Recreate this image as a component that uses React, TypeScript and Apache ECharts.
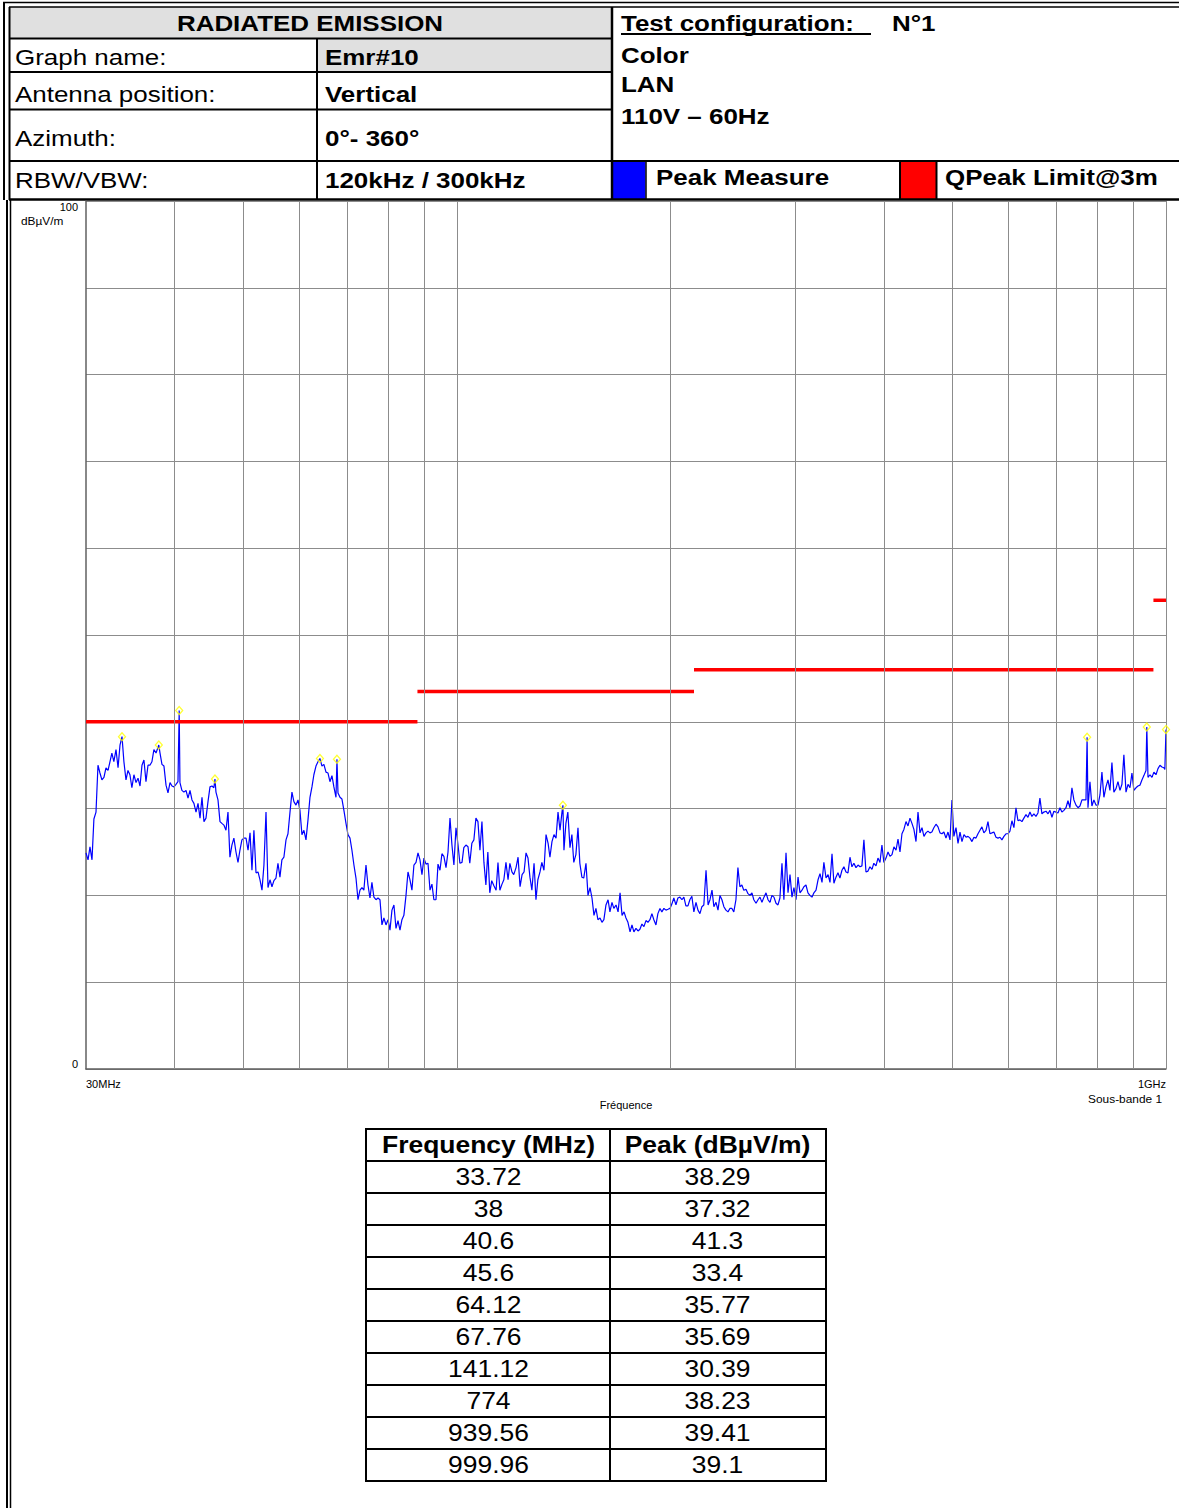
import React, { useEffect, useRef } from "react";
import * as echarts from "echarts";

const FONT = '"Liberation Sans", Arial, Helvetica, sans-serif';

// Peak Measure trace (frequency in MHz, level in dBµV/m)
const traceFreqMHz = [
  30.00, 30.20, 30.39, 30.59, 30.78,
  30.99, 31.19, 31.39, 31.59, 31.80,
  32.01, 32.22, 32.43, 32.63, 32.84,
  33.07, 33.29, 33.50, 33.72, 33.93,
  34.16, 34.38, 34.60, 34.82, 35.05,
  35.29, 35.52, 35.75, 35.98, 36.21,
  36.45, 36.69, 36.92, 37.16, 37.40,
  37.66, 38.00, 38.15, 38.39, 38.64,
  38.90, 39.15, 39.41, 39.66, 39.91,
  40.18, 40.44, 40.60, 40.70, 40.96, 41.23,
  41.51, 41.78, 42.05, 42.32, 42.59,
  42.88, 43.16, 43.44, 43.72, 44.00,
  44.29, 44.58, 44.87, 45.16, 45.44, 45.60,
  45.75, 46.05, 46.35, 46.64, 46.94,
  47.26, 47.57, 47.87, 48.18, 48.49,
  48.82, 49.14, 49.45, 49.77, 50.09,
  50.44, 50.77, 51.10, 51.42, 51.75,
  52.10, 52.44, 52.78, 53.12, 53.46,
  53.82, 54.17, 54.52, 54.87, 55.22,
  55.59, 55.95, 56.31, 56.67, 57.04,
  57.43, 57.80, 58.18, 58.55, 58.92,
  59.32, 59.71, 60.09, 60.48, 60.87,
  61.28, 61.68, 62.08, 62.48, 62.87,
  63.30, 63.71, 64.12, 64.54, 64.95,
  65.39, 65.82, 66.24, 66.67, 67.09,
  67.55, 67.76, 67.99, 68.43, 68.87, 69.31,
  69.78, 70.23, 70.69, 71.14, 71.60,
  72.08, 72.55, 73.02, 73.49, 73.95,
  74.46, 74.94, 75.43, 75.91, 76.40,
  76.92, 77.42, 77.92, 78.42, 78.92,
  79.46, 79.98, 80.49, 81.01, 81.53,
  82.08, 82.61, 83.15, 83.68, 84.21,
  84.79, 85.34, 85.89, 86.44, 87.00,
  87.59, 88.16, 88.73, 89.30, 89.87,
  90.48, 91.07, 91.66, 92.24, 92.83,
  93.46, 94.07, 94.68, 95.28, 95.89,
  96.55, 97.18, 97.81, 98.43, 99.06,
  99.73, 100.4, 101.0, 101.7, 102.3,
  103.0, 103.7, 104.3, 105.0, 105.7,
  106.4, 107.1, 107.8, 108.5, 109.2,
  109.9, 110.6, 111.3, 112.0, 112.8,
  113.6, 114.3, 115.0, 115.8, 116.5,
  117.3, 118.1, 118.8, 119.6, 120.3,
  121.2, 122.0, 122.8, 123.6, 124.4,
  125.2, 126.0, 126.8, 127.6, 128.5,
  129.3, 130.1, 131.0, 131.8, 132.7,
  133.6, 134.5, 135.3, 136.2, 137.1,
  138.0, 138.9, 139.8, 140.7, 141.12, 141.6,
  142.5, 143.4, 144.4, 145.3, 146.2,
  147.2, 148.2, 149.1, 150.1, 151.0,
  152.1, 153.1, 154.1, 155.1, 156.1,
  157.1, 158.1, 159.2, 160.2, 161.2,
  162.3, 163.4, 164.4, 165.5, 166.5,
  167.7, 168.8, 169.9, 171.0, 172.1,
  173.2, 174.3, 175.5, 176.6, 177.7,
  178.9, 180.1, 181.2, 182.4, 183.6,
  184.8, 186.0, 187.2, 188.4, 189.6,
  190.9, 192.1, 193.4, 194.6, 195.9,
  197.2, 198.5, 199.8, 201.0, 202.3,
  203.7, 205.0, 206.3, 207.7, 209.0,
  210.4, 211.8, 213.1, 214.5, 215.9,
  217.4, 218.8, 220.2, 221.6, 223.0,
  224.6, 226.1, 227.5, 229.0, 230.4,
  232.0, 233.5, 235.0, 236.5, 238.0,
  239.6, 241.2, 242.7, 244.3, 245.8,
  247.5, 249.1, 250.7, 252.3, 253.9,
  255.7, 257.4, 259.0, 260.7, 262.3,
  264.2, 265.9, 267.6, 269.3, 271.1,
  272.9, 274.7, 276.4, 278.2, 280.0,
  281.9, 283.7, 285.5, 287.4, 289.2,
  291.2, 293.1, 295.0, 296.9, 298.8,
  300.8, 302.8, 304.7, 306.7, 308.6,
  310.7, 312.7, 314.7, 316.8, 318.8,
  321.0, 323.1, 325.2, 327.3, 329.3,
  331.6, 333.8, 335.9, 338.1, 340.2,
  342.5, 344.7, 346.9, 349.2, 351.4,
  353.8, 356.1, 358.4, 360.7, 363.0,
  365.5, 367.9, 370.3, 372.6, 375.0,
  377.5, 380.0, 382.4, 384.9, 387.3,
  390.0, 392.5, 395.1, 397.6, 400.1,
  402.9, 405.5, 408.1, 410.8, 413.4,
  416.2, 418.9, 421.6, 424.3, 427.0,
  429.9, 432.7, 435.5, 438.3, 441.1,
  444.1, 447.0, 449.9, 452.8, 455.7,
  458.7, 461.7, 464.7, 467.6, 470.6,
  473.9, 477.0, 480.1, 483.1, 486.2,
  489.5, 492.7, 495.9, 499.1, 502.2,
  505.7, 509.0, 512.3, 515.6, 518.9,
  522.4, 525.8, 529.2, 532.6, 536.0,
  539.6, 543.1, 546.6, 550.1, 553.6,
  557.4, 561.0, 564.6, 568.3, 571.9,
  575.8, 579.5, 583.3, 587.0, 590.8,
  594.8, 598.7, 602.5, 606.4, 610.3,
  614.4, 618.4, 622.4, 626.4, 630.4,
  634.7, 638.8, 642.9, 647.0, 651.2,
  655.6, 659.9, 664.1, 668.4, 672.7,
  677.3, 681.7, 686.1, 690.5, 694.9,
  699.6, 704.2, 708.7, 713.2, 717.8,
  722.7, 727.4, 732.1, 736.8, 741.5,
  746.6, 751.5, 756.3, 761.2, 766.0,
  771.2, 774.0, 776.2, 781.2, 786.2, 791.3,
  796.7, 801.9, 807.1, 812.2, 817.4,
  822.9, 828.3, 833.6, 839.0, 844.3,
  850.1, 855.6, 861.2, 866.7, 872.2,
  878.2, 883.9, 889.6, 895.3, 901.0,
  907.1, 913.0, 918.9, 924.8, 930.7,
  937.1, 939.56, 943.2, 949.3, 955.4, 961.5,
  968.0, 974.3, 980.6, 986.9, 993.2, 996.3, 999.96,
];

const traceLevel = [
  24.9, 24.1, 25.6, 24.1, 28.8,
  29.6, 35.0, 34.1, 33.3, 33.6,
  34.7, 34.4, 35.4, 36.4, 35.4,
  36.8, 34.7, 37.3, 38.29, 35.4,
  33.3, 34.4, 33.9, 32.4, 33.9,
  33.0, 33.5, 32.6, 35.0, 35.6,
  33.1, 35.0, 35.0, 35.4, 36.8,
  36.4, 37.32, 36.4, 35.1, 34.9,
  32.7, 31.8, 33.0, 32.6, 32.5,
  32.8, 33.1, 41.3, 33.0, 32.1, 31.9,
  32.1, 31.2, 32.1, 31.0, 30.6,
  29.6, 30.6, 28.9, 31.3, 28.5,
  28.9, 30.8, 32.5, 32.6, 32.4, 33.4,
  31.9, 31.0, 28.5, 28.3, 28.1,
  27.5, 29.6, 24.4, 25.8, 26.6,
  25.0, 23.8, 25.2, 26.4, 26.6,
  26.6, 25.2, 27.2, 22.9, 27.5,
  22.6, 22.7, 21.8, 20.6, 23.5,
  29.6, 20.9, 21.8, 21.0, 21.7,
  22.0, 23.7, 22.1, 24.1, 24.4,
  26.4, 27.1, 29.6, 31.9, 30.8,
  30.4, 31.0, 29.8, 27.0, 27.5,
  26.4, 28.7, 31.3, 32.5, 33.9,
  34.9, 35.4, 35.77, 34.9, 35.1,
  34.2, 34.1, 33.1, 33.8, 32.5,
  31.3, 35.69, 31.8, 31.3, 31.1, 29.8,
  28.3, 27.0, 26.6, 25.2, 23.5,
  22.0, 19.5, 20.6, 20.9, 20.6,
  23.5, 21.2, 19.7, 21.5, 19.8,
  19.5, 19.7, 19.5, 16.6, 17.4,
  16.6, 17.2, 16.0, 18.3, 18.9,
  16.2, 17.1, 16.0, 17.2, 17.7,
  20.0, 22.7, 21.8, 20.6, 23.5,
  23.8, 24.9, 24.1, 22.4, 24.3,
  23.6, 23.7, 20.6, 21.3, 19.5,
  19.5, 23.6, 22.9, 24.8, 24.5,
  23.2, 25.0, 28.9, 25.8, 23.5,
  27.8, 25.8, 23.7, 23.8, 25.5,
  25.8, 25.6, 23.7, 26.0, 26.4,
  28.9, 28.5, 25.2, 28.5, 23.8,
  21.2, 25.0, 20.3, 21.7, 21.1,
  20.6, 23.8, 20.6, 21.3, 21.8,
  23.8, 21.8, 23.7, 22.7, 22.4,
  23.2, 24.4, 21.0, 22.4, 22.7,
  24.9, 24.3, 22.1, 20.6, 23.7,
  19.5, 21.8, 22.7, 23.8, 22.9,
  27.0, 26.0, 24.4, 26.2, 27.0,
  26.6, 29.6, 27.5, 29.6, 30.39, 25.2,
  28.3, 29.6, 25.5, 27.0, 23.8,
  24.7, 27.8, 23.7, 22.1, 22.0,
  23.7, 20.0, 20.9, 19.7, 17.7,
  18.5, 17.2, 17.4, 16.9, 17.2,
  18.9, 19.5, 18.1, 19.2, 18.5,
  18.9, 18.1, 20.3, 17.7, 18.1,
  17.4, 16.9, 15.8, 16.6, 15.8,
  16.2, 15.9, 16.1, 16.7, 16.4,
  17.1, 16.9, 17.2, 17.9, 17.2,
  16.6, 17.9, 18.5, 18.1, 18.5,
  18.3, 18.4, 18.5, 19.0, 19.7,
  18.9, 19.7, 19.8, 19.5, 19.8,
  18.8, 18.8, 19.5, 19.9, 18.1,
  19.2, 18.3, 17.9, 18.7, 18.9,
  22.9, 18.9, 19.5, 20.6, 18.7,
  19.2, 18.3, 20.0, 19.5, 18.7,
  18.3, 18.1, 18.5, 18.5, 18.1,
  19.5, 23.2, 21.0, 21.2, 20.6,
  20.7, 20.2, 20.0, 20.3, 19.5,
  19.1, 19.5, 19.8, 19.2, 19.8,
  20.3, 19.5, 19.2, 20.0, 19.8,
  19.1, 18.9, 19.7, 23.7, 19.5,
  24.9, 20.3, 22.4, 19.8, 20.9,
  19.5, 22.1, 20.3, 20.6, 21.0,
  21.2, 20.3, 20.0, 19.8, 20.3,
  20.6, 21.8, 22.5, 21.5, 23.8,
  22.0, 22.4, 21.5, 24.8, 21.4,
  22.1, 22.6, 22.0, 22.9, 23.3,
  22.7, 22.6, 24.4, 23.3, 23.7,
  23.2, 23.5, 23.3, 23.4, 26.4,
  22.7, 22.8, 23.3, 23.0, 23.7,
  23.4, 24.3, 23.8, 25.8, 23.8,
  24.3, 25.0, 24.5, 24.7, 25.6,
  25.2, 26.5, 25.0, 27.1, 27.6,
  28.5, 28.0, 28.9, 28.3, 27.6,
  26.2, 29.6, 27.2, 27.8, 26.8,
  27.2, 27.4, 27.2, 27.3, 27.8,
  28.2, 27.9, 27.2, 27.1, 27.3,
  26.6, 27.3, 26.4, 31.0, 26.8,
  27.8, 26.0, 27.3, 26.2, 27.0,
  26.7, 26.8, 26.6, 26.2, 26.7,
  26.6, 27.1, 27.5, 27.9, 27.2,
  27.5, 28.5, 27.1, 27.2, 27.3,
  26.7, 26.6, 26.7, 26.4, 26.8,
  27.1, 27.1, 27.4, 28.6, 27.8,
  30.1, 28.6, 28.7, 28.5, 28.9,
  29.3, 29.0, 29.6, 29.1, 29.4,
  29.1, 29.5, 31.2, 29.4, 29.6,
  29.7, 29.4, 29.8, 29.0, 29.7,
  29.6, 29.5, 30.1, 29.6, 29.8,
  30.1, 30.9, 30.1, 32.4, 31.0,
  30.4, 30.1, 30.3, 31.0, 31.0,
  31.0, 38.23, 30.1, 33.1, 30.3, 31.0,
  30.4, 30.4, 31.6, 34.2, 31.3,
  32.5, 33.3, 32.1, 35.3, 31.9,
  32.3, 33.1, 32.1, 32.8, 36.2,
  31.9, 32.8, 32.4, 34.1, 32.1,
  32.4, 32.6, 32.7, 33.3, 33.8,
  34.4, 39.41, 33.6, 33.9, 33.6, 34.2,
  33.9, 34.6, 35.0, 34.8, 34.7, 34.5, 39.1,
];

// Peak table
const peakFreqMHz = [33.72, 38, 40.6, 45.6, 64.12, 67.76, 141.12, 774, 939.56, 999.96];
const peakLevel = [38.29, 37.32, 41.3, 33.4, 35.77, 35.69, 30.39, 38.23, 39.41, 39.1];

// QPeak limit @3m (step limit)
const limitStartMHz = [30, 88, 216, 960];
const limitEndMHz = [88, 216, 960, 1000];
const limitLevel = [40, 43.5, 46, 54];

// Vertical (log) grid frequencies
const gridFreqMHz = [40, 50, 60, 70, 80, 90, 100, 200, 300, 400, 500, 600, 700, 800, 900, 1000];

// Header texts
const headerLabels = ["Graph name:", "Antenna position:", "Azimuth:", "RBW/VBW:"];
const headerValues = ["Emr#10", "Vertical", "0°- 360°", "120kHz / 300kHz"];
const configLines = ["Color", "LAN", "110V – 60Hz"];

function L(x1: number, y1: number, x2: number, y2: number, w: number, color = "#000") {
  return { type: "line", silent: true, shape: { x1, y1, x2, y2 }, style: { stroke: color, lineWidth: w } };
}
function R(x: number, y: number, w: number, h: number, fill: string) {
  return { type: "rect", silent: true, shape: { x, y, width: w, height: h }, style: { fill } };
}
function T(text: string, x: number, y: number, o: { bold?: boolean; size?: number; align?: string; sx?: number } = {}) {
  const align = o.align || "left";
  return {
    type: "text",
    silent: true,
    x,
    y,
    scaleX: o.sx ?? 1.18,
    style: {
      text,
      fontFamily: FONT,
      fontSize: o.size ?? 22,
      fontWeight: o.bold ? "bold" : "normal",
      fill: "#000",
      align,
      verticalAlign: "middle",
      textAlign: align,
      textVerticalAlign: "middle",
    },
  };
}

export default function App() {
  const ref = useRef<HTMLDivElement>(null);

  useEffect(() => {
    document.body.style.margin = "0";
    if (!ref.current) return;
    const chart = echarts.init(ref.current, null, { renderer: "svg" });

    const n = Math.min(traceFreqMHz.length, traceLevel.length);
    const traceData: number[][] = [];
    for (let i = 0; i < n; i++) traceData.push([traceFreqMHz[i], traceLevel[i]]);

    const limitSeries = limitStartMHz.map((s, i) => ({
      type: "line",
      name: "QPeak Limit@3m",
      data: [
        [s, limitLevel[i]],
        [limitEndMHz[i], limitLevel[i]],
      ],
      symbol: "none",
      z: 4,
      lineStyle: { color: "#ff0000", width: 3.5 },
      silent: true,
    }));

    const graphics: any[] = [];
    // fills
    graphics.push(R(10, 7, 602, 31.5, "#e0e0e0"));
    graphics.push(R(317, 39, 295, 32.5, "#e0e0e0"));
    graphics.push(R(612.5, 162, 33, 37, "#0000ff"));
    graphics.push(R(901, 162, 35, 37, "#ff0000"));
    // frame lines
    graphics.push(L(3, 2.5, 1179, 2.5, 1.5));
    graphics.push(L(9, 7, 1179, 7, 1.5));
    graphics.push(L(4, 2, 4, 200, 2));
    graphics.push(L(9.5, 7, 9.5, 200, 2));
    graphics.push(L(7, 200, 7, 1508, 2));
    graphics.push(L(10.5, 200, 10.5, 1508, 1.5));
    graphics.push(L(9, 38.5, 612, 38.5, 2));
    graphics.push(L(9, 72, 612, 72, 2));
    graphics.push(L(9, 109.5, 612, 109.5, 2));
    graphics.push(L(9, 161, 1179, 161, 2));
    graphics.push(L(9, 199.5, 1179, 199.5, 2.5));
    graphics.push(L(317, 38.5, 317, 200, 2));
    graphics.push(L(612, 7, 612, 200, 2.5));
    graphics.push(L(646, 161, 646, 200, 1.5));
    graphics.push(L(900, 161, 900, 200, 2));
    graphics.push(L(936.5, 161, 936.5, 200, 2));
    graphics.push(L(621, 34, 871, 34, 2));
    // header texts
    graphics.push(T("RADIATED EMISSION", 310, 23, { bold: true, align: "center" }));
    const rowY = [57, 94, 138, 180];
    headerLabels.forEach((t, i) => graphics.push(T(t, 15, rowY[i])));
    headerValues.forEach((t, i) => graphics.push(T(t, 325, rowY[i], { bold: true })));
    graphics.push(T("Test configuration:", 621, 23, { bold: true }));
    graphics.push(T("N°1", 892, 23, { bold: true }));
    const cfgY = [55, 84, 116];
    configLines.forEach((t, i) => graphics.push(T(t, 621, cfgY[i], { bold: true })));
    graphics.push(T("Peak Measure", 656, 177, { bold: true }));
    graphics.push(T("QPeak Limit@3m", 945, 177, { bold: true }));
    // chart side labels
    graphics.push(T("dBµV/m", 21, 221, { size: 11, sx: 1.08 }));
    graphics.push(T("Sous-bande 1", 1162, 1099, { size: 11, sx: 1.08, align: "right" }));
    // peak table
    const tx0 = 366, tx1 = 826, tmid = 610, ty0 = 1129, rowH = 32;
    const nRows = peakFreqMHz.length;
    const tyEnd = ty0 + rowH + nRows * rowH;
    graphics.push(L(tx0, ty0, tx1, ty0, 2));
    for (let k = 0; k <= nRows; k++) {
      const y = ty0 + rowH + k * rowH;
      graphics.push(L(tx0, y, tx1, y, 2));
    }
    graphics.push(L(tx0, ty0 - 1, tx0, tyEnd + 1, 2));
    graphics.push(L(tx1, ty0 - 1, tx1, tyEnd + 1, 2));
    graphics.push(L(tmid, ty0 - 1, tmid, tyEnd + 1, 2));
    const c1 = (tx0 + tmid) / 2 + 0.5, c2 = (tmid + tx1) / 2 - 0.5;
    graphics.push(T("Frequency (MHz)", c1, ty0 + 16, { bold: true, size: 23, sx: 1.15, align: "center" }));
    graphics.push(T("Peak (dBµV/m)", c2, ty0 + 16, { bold: true, size: 23, sx: 1.15, align: "center" }));
    peakFreqMHz.forEach((f, i) => {
      const y = ty0 + rowH + i * rowH + 16;
      graphics.push(T(String(f), c1, y, { size: 23, sx: 1.15, align: "center" }));
      graphics.push(T(String(peakLevel[i]), c2, y, { size: 23, sx: 1.15, align: "center" }));
    });

    const option: any = {
      animation: false,
      backgroundColor: "#ffffff",
      grid: { left: 86, top: 201, width: 1080, height: 868, containLabel: false },
      xAxis: {
        type: "log",
        logBase: 10,
        min: 30,
        max: 1000,
        name: "Fréquence",
        nameLocation: "middle",
        nameGap: 30,
        nameTextStyle: { fontFamily: FONT, fontSize: 11, color: "#000" },
        axisLine: { show: true, lineStyle: { color: "#606060", width: 1.5 } },
        axisTick: { show: false },
        splitLine: { show: false },
        minorTick: { show: false },
        axisLabel: {
          fontFamily: FONT,
          fontSize: 11,
          color: "#000",
          margin: 9,
          showMinLabel: true,
          showMaxLabel: true,
          alignMinLabel: "left",
          alignMaxLabel: "right",
          formatter: (v: number) => {
            const r = Math.round(v);
            return r === 30 ? "30MHz" : r === 1000 ? "1GHz" : "";
          },
        },
      },
      yAxis: {
        type: "value",
        min: 0,
        max: 100,
        interval: 10,
        axisLine: { show: true, lineStyle: { color: "#606060", width: 1.5 } },
        axisTick: { show: false },
        splitLine: { show: true, lineStyle: { color: "#8c8c8c", width: 1 } },
        axisLabel: {
          fontFamily: FONT,
          fontSize: 11,
          color: "#000",
          margin: 8,
          showMinLabel: true,
          showMaxLabel: true,
          verticalAlignMinLabel: "bottom",
          verticalAlignMaxLabel: "top",
          formatter: (v: number) => (v === 0 || v === 100 ? String(v) : ""),
        },
      },
      graphic: { elements: graphics },
      series: [
        {
          type: "line",
          name: "grid",
          data: [],
          z: 1,
          silent: true,
          markLine: {
            silent: true,
            symbol: ["none", "none"],
            label: { show: false },
            animation: false,
            lineStyle: { color: "#8c8c8c", width: 1, type: "solid" },
            data: gridFreqMHz.map((f) => ({ xAxis: f })),
          },
        },
        {
          type: "line",
          name: "Peak Measure",
          data: traceData,
          symbol: "none",
          sampling: undefined,
          z: 3,
          silent: true,
          lineStyle: { color: "#0000ff", width: 1.2 },
        },
        ...limitSeries,
        {
          type: "scatter",
          name: "Peaks",
          data: peakFreqMHz.map((f, i) => [f, peakLevel[i]]),
          symbol: "diamond",
          symbolSize: [7, 8],
          z: 5,
          silent: true,
          itemStyle: { color: "rgba(255,255,255,0)", borderColor: "#ffff00", borderWidth: 1.3 },
        },
      ],
    };

    chart.setOption(option);
    return () => chart.dispose();
  }, []);

  return (
    <div
      ref={ref}
      style={{ position: "absolute", left: 0, top: 0, width: 1179, height: 1508, background: "#fff" }}
    />
  );
}
